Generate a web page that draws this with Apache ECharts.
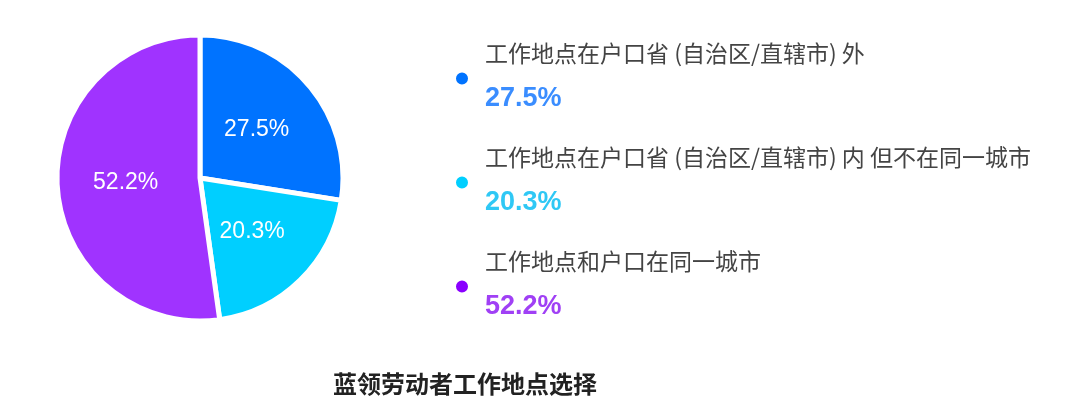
<!DOCTYPE html>
<html>
<head>
<meta charset="utf-8">
<script src="https://cdn.jsdelivr.net/npm/echarts@6/dist/echarts.min.js"></script>
<style>
html,body{margin:0;padding:0;background:#fff;}
#c{width:1069px;height:411px;}
</style>
</head>
<body>
<div id="c"></div>
<script>
const categories = ['工作地点在户口省（自治区/直辖市）外', '工作地点在户口省（自治区/直辖市）内 但不在同一城市', '工作地点和户口在同一城市'];
const legendNames = ['工作地点在户口省 (自治区/直辖市) 外', '工作地点在户口省 (自治区/直辖市) 内 但不在同一城市', '工作地点和户口在同一城市'];
const values = [27.5, 20.3, 52.2];
const sliceColors = ['#0073FF', '#00CFFF', '#A033FF'];
const iconColors = ['#0073FF', '#00CFFF', '#8A00FF'];
const pctColors = ['#3A8DFF', '#2FC8F5', '#A040F5'];
const titleText = '蓝领劳动者工作地点选择';

const chart = echarts.init(document.getElementById('c'));
const rich = {name: {fontSize: 23, color: '#444', lineHeight: 40, fontFamily: 'Noto Sans CJK SC'}};
pctColors.forEach((c, i) => {
  rich['p' + i] = {fontSize: 27, color: c, lineHeight: 50, fontWeight: 'bold', fontFamily: 'Liberation Sans'};
});
chart.setOption({
  animation: false,
  title: {
    text: titleText,
    left: 460, top: 367, textAlign: 'center',
    textStyle: {fontSize: 24, fontWeight: 'bold', color: '#222', fontFamily: 'Noto Sans CJK SC'}
  },
  legend: {
    orient: 'vertical',
    left: 449, top: 37,
    icon: 'circle', itemWidth: 14, itemHeight: 14, itemGap: 34,
    data: categories.map((n, i) => ({name: n, itemStyle: {color: iconColors[i]}})),
    formatter: function (name) {
      const i = categories.indexOf(name);
      return '{name|' + legendNames[i] + '}\n{p' + i + '|' + values[i].toFixed(1) + '%}';
    },
    textStyle: {rich: rich, padding: [0, 0, 0, 11]}
  },
  series: [{
    type: 'pie',
    center: [200, 178],
    radius: 143,
    startAngle: 90,
    clockwise: true,
    itemStyle: {borderColor: '#fff', borderWidth: 5},
    label: {
      position: 'inside', color: '#fff', fontSize: 23, fontFamily: 'Liberation Sans',
      formatter: p => p.value.toFixed(1) + '%'
    },
    labelLine: {show: false},
    emphasis: {disabled: true},
    data: categories.map((n, i) => ({name: n, value: values[i], itemStyle: {color: sliceColors[i]}}))
  }]
});
</script>
</body>
</html>
